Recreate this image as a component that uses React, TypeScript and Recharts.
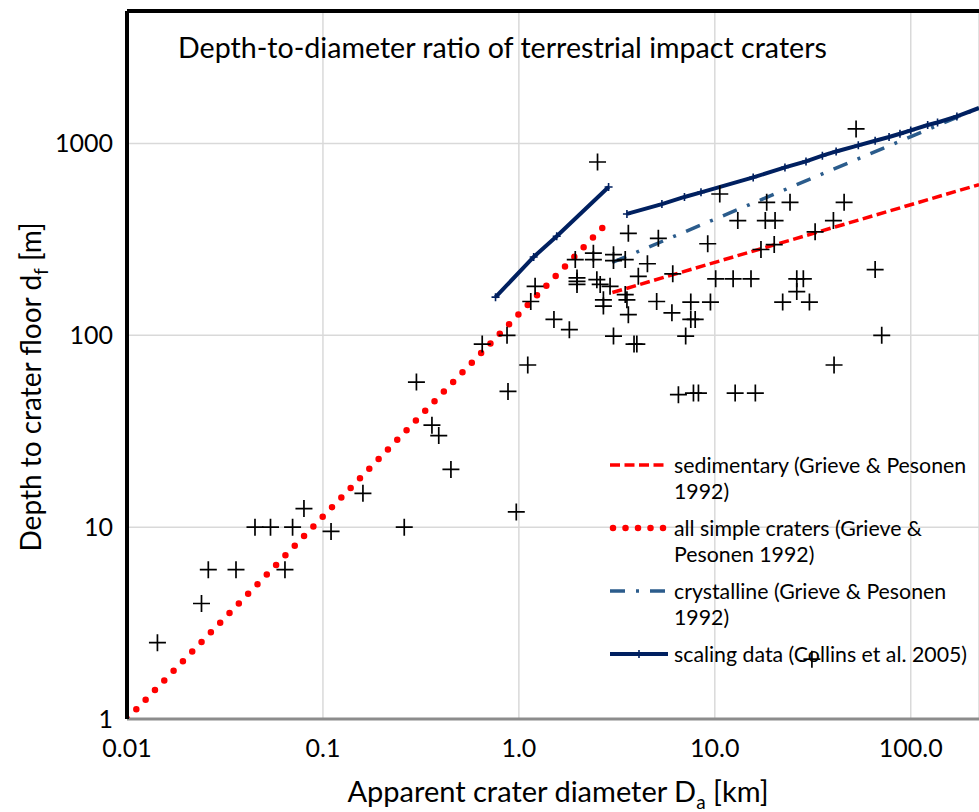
import React from 'react';
import {
  ComposedChart,
  Scatter,
  Line,
  XAxis,
  YAxis,
  CartesianGrid,
  ReferenceLine,
} from 'recharts';

const FONT = 'Lato, "Noto Sans", sans-serif';

// terrestrial craters: apparent diameter [km] and depth to crater floor [m]
const craterDiameter = [
  0.0143, 0.024, 0.026, 0.036, 0.045, 0.054, 0.064, 0.07, 0.08, 0.11,
  0.16, 0.26, 0.3, 0.36, 0.39, 0.45, 0.65, 0.87, 0.88, 0.97,
  1.11, 1.15, 1.21, 1.51, 1.81, 1.94, 1.98, 1.98, 1.98, 2.4,
  2.4, 2.5, 2.52, 2.6, 2.7, 2.7, 2.92, 3.04, 3.04, 3.04,
  3.49, 3.49, 3.56, 3.62, 3.62, 3.87, 4.0, 4.07, 4.53, 5.05,
  5.15, 6.04, 6.1, 6.52, 7.1, 7.54, 7.54, 7.78, 7.94, 8.25,
  9.2, 9.5, 10.1, 10.6, 12.4, 12.7, 13.1, 15.3, 16.1, 17.2,
  18.1, 18.4, 20.1, 20.3, 22.2, 24.2, 26.2, 26.2, 28.3, 30.4,
  31.3, 32.5, 40.3, 40.6, 45.7, 52.6, 65.8, 71.1,
];
const craterDepth = [
  2.5, 4.0, 6.0, 6.0, 10, 10, 6.0, 10, 12.5, 9.5,
  15, 10, 57, 34, 30, 20, 90, 100, 51, 12,
  70, 150, 180, 121, 107, 248, 199, 191, 184, 268,
  248, 195, 800, 184, 153, 142, 180, 263, 245, 99,
  248, 163, 153, 340, 128, 90, 90, 203, 236, 150,
  320, 131, 209, 49, 99, 149, 121, 50, 121, 50,
  300, 149, 197, 545, 197, 50, 396, 197, 50, 280,
  396, 493, 297, 396, 149, 493, 197, 169, 197, 149,
  2.05, 346, 396, 70, 493, 1190, 220, 100,
];

// Grieve & Pesonen (1992) fits
const sedimentaryD = [3.0, 223];
const sedimentaryDepth = [167, 610];
const simpleD = [0.01, 2.75];
const simpleDepth = [1.0, 375];
const crystallineD = [3.0, 223];
const crystallineDepth = [240, 1530];

// Collins et al. (2005) scaling data
const scalingSimpleD = [0.76, 1.19, 1.56, 2.87];
const scalingSimpleDepth = [158, 256, 328, 593];
const scalingComplexD = [
  3.56, 5.37, 7.0, 8.5, 15.7, 22.8, 29.2, 35.4, 41.6, 54,
  65.8, 77.5, 88.1, 100, 122, 137, 172, 223,
];
const scalingComplexDepth = [
  429, 483, 526, 556, 665, 750, 806, 863, 908, 977,
  1033, 1080, 1123, 1169, 1247, 1286, 1383, 1530,
];

const xTicks = [0.01, 0.1, 1, 10, 100];
const xTickLabels = ['0.01', '0.1', '1.0', '10.0', '100.0'];
const yTicks = [1, 10, 100, 1000];
const yTickLabels = ['1', '10', '100', '1000'];
const xDomain = [0.01, 223];
const yDomain = [1, 4900];

const legendNames = [
  ['sedimentary (Grieve & Pesonen', '1992)'],
  ['all simple craters (Grieve &', 'Pesonen 1992)'],
  ['crystalline (Grieve & Pesonen', '1992)'],
  ['scaling data (Collins et al. 2005)'],
];

const RED = '#ff0000';
const NAVY = '#002060';
const STEEL = '#2b5c8c';

const toPoints = (xs: number[], ys: number[]) => xs.map((x, i) => ({ x, y: ys[i] }));

const craters = toPoints(craterDiameter, craterDepth);
const sedimentary = toPoints(sedimentaryD, sedimentaryDepth);
const simple = toPoints(simpleD, simpleDepth);
const crystalline = toPoints(crystallineD, crystallineDepth);
const scalingSimple = toPoints(scalingSimpleD, scalingSimpleDepth);
const scalingComplex = toPoints(scalingComplexD, scalingComplexDepth);

function CrossMark(props: any) {
  const { cx, cy } = props;
  const h = 8.5;
  return (
    <path
      d={`M${cx - h},${cy}H${cx + h}M${cx},${cy - h}V${cy + h}`}
      stroke="#000"
      strokeWidth={1.7}
      fill="none"
    />
  );
}

function tickMark(lastHidden: boolean, count: number) {
  return (props: any) => {
    const { cx, cy, index } = props;
    if (lastHidden && index === count - 1) return <g key={`t${index}`} />;
    return (
      <path
        key={`t${index}`}
        d={`M${cx - 4},${cy}H${cx + 4}M${cx},${cy - 4}V${cy + 4}`}
        stroke={NAVY}
        strokeWidth={1.6}
        fill="none"
      />
    );
  };
}

function XTitle() {
  return (
    <text x={558} y={802} textAnchor="middle" fontSize={29} fontFamily={FONT} fill="#000">
      Apparent crater diameter D
      <tspan fontSize={19} dy={7}>a</tspan>
      <tspan dy={-7}> [km]</tspan>
    </text>
  );
}

function YTitle() {
  return (
    <text
      transform="translate(41, 387) rotate(-90)"
      textAnchor="middle"
      fontSize={28}
      fontFamily={FONT}
      fill="#000"
    >
      Depth to crater floor d
      <tspan fontSize={19} dy={7}>f</tspan>
      <tspan dy={-7}> [m]</tspan>
    </text>
  );
}

function LegendOverlay() {
  const top = [465, 528, 591, 654];
  const samples = [
    <line key="s0" x1={610} x2={668} y1={top[0]} y2={top[0]} stroke={RED} strokeWidth={3.5} strokeDasharray="10 4.5" />,
    <line key="s1" x1={613} x2={668} y1={top[1]} y2={top[1]} stroke={RED} strokeWidth={6.5} strokeDasharray="0 12.5" strokeLinecap="round" />,
    <line key="s2" x1={610} x2={668} y1={top[2]} y2={top[2]} stroke={STEEL} strokeWidth={3.5} strokeDasharray="15 11 3 11" />,
    <g key="s3">
      <line x1={610} x2={668} y1={top[3]} y2={top[3]} stroke={NAVY} strokeWidth={4} />
      <path d={`M639,${top[3] - 4}V${top[3] + 4}`} stroke={NAVY} strokeWidth={1.6} />
    </g>,
  ];
  return (
    <svg
      width={979}
      height={812}
      style={{ position: 'absolute', left: 0, top: 0, pointerEvents: 'none' }}
    >
      <text x={178} y={58} fontSize={28.6} fontFamily={FONT} fill="#000">
        Depth-to-diameter ratio of terrestrial impact craters
      </text>
      {samples}
      {legendNames.map((lines, i) => (
        <text key={i} fontSize={21.3} fontFamily={FONT} fill="#000">
          {lines.map((ln, j) => (
            <tspan key={j} x={674} y={top[i] + j * 26} dominantBaseline="central">
              {ln}
            </tspan>
          ))}
        </text>
      ))}
    </svg>
  );
}

export default function App() {
  return (
    <div
      style={{
        position: 'absolute',
        left: 0,
        top: 0,
        width: 979,
        height: 812,
        overflow: 'hidden',
        background: '#fff',
        fontFamily: FONT,
      }}
    >
      <ComposedChart width={979} height={812} margin={{ top: 11, right: 0, bottom: 0, left: 0 }}>
        <CartesianGrid stroke="#d9d9d9" strokeWidth={1.5} />
        <XAxis
          dataKey="x"
          type="number"
          scale="log"
          domain={xDomain}
          allowDataOverflow
          ticks={xTicks}
          tickFormatter={(v: number) => xTickLabels[xTicks.indexOf(v)] ?? String(v)}
          tickLine={false}
          tickSize={0}
          tickMargin={20}
          height={93}
          axisLine={{ stroke: '#8c8c8c', strokeWidth: 3 }}
          tick={{ fontSize: 25, fill: '#000', fontFamily: FONT }}
          label={<XTitle />}
        />
        <YAxis
          dataKey="y"
          type="number"
          scale="log"
          domain={yDomain}
          allowDataOverflow
          ticks={yTicks}
          tickFormatter={(v: number) => yTickLabels[yTicks.indexOf(v)] ?? String(v)}
          tickLine={false}
          tickSize={0}
          tickMargin={14}
          width={127}
          axisLine={{ stroke: '#000', strokeWidth: 4 }}
          tick={{ fontSize: 25, fill: '#000', fontFamily: FONT }}
          label={<YTitle />}
        />
        <ReferenceLine y={yDomain[1]} stroke="#000" strokeWidth={4} ifOverflow="visible" />
        <Scatter data={craters} shape={CrossMark} isAnimationActive={false} />
        <Line
          data={sedimentary}
          dataKey="y"
          stroke={RED}
          strokeWidth={3.5}
          strokeDasharray="10 4.5"
          dot={false}
          isAnimationActive={false}
        />
        <Line
          data={simple}
          dataKey="y"
          stroke={RED}
          strokeWidth={6.5}
          strokeDasharray="0 13.4"
          strokeLinecap="round"
          dot={false}
          isAnimationActive={false}
        />
        <Line
          data={crystalline}
          dataKey="y"
          stroke={STEEL}
          strokeWidth={3.5}
          strokeDasharray="15 11 3 11"
          dot={false}
          isAnimationActive={false}
        />
        <Line
          data={scalingSimple}
          dataKey="y"
          stroke={NAVY}
          strokeWidth={4}
          dot={tickMark(false, scalingSimple.length)}
          isAnimationActive={false}
        />
        <Line
          data={scalingComplex}
          dataKey="y"
          stroke={NAVY}
          strokeWidth={4}
          dot={tickMark(true, scalingComplex.length)}
          isAnimationActive={false}
        />
      </ComposedChart>
      <LegendOverlay />
    </div>
  );
}
